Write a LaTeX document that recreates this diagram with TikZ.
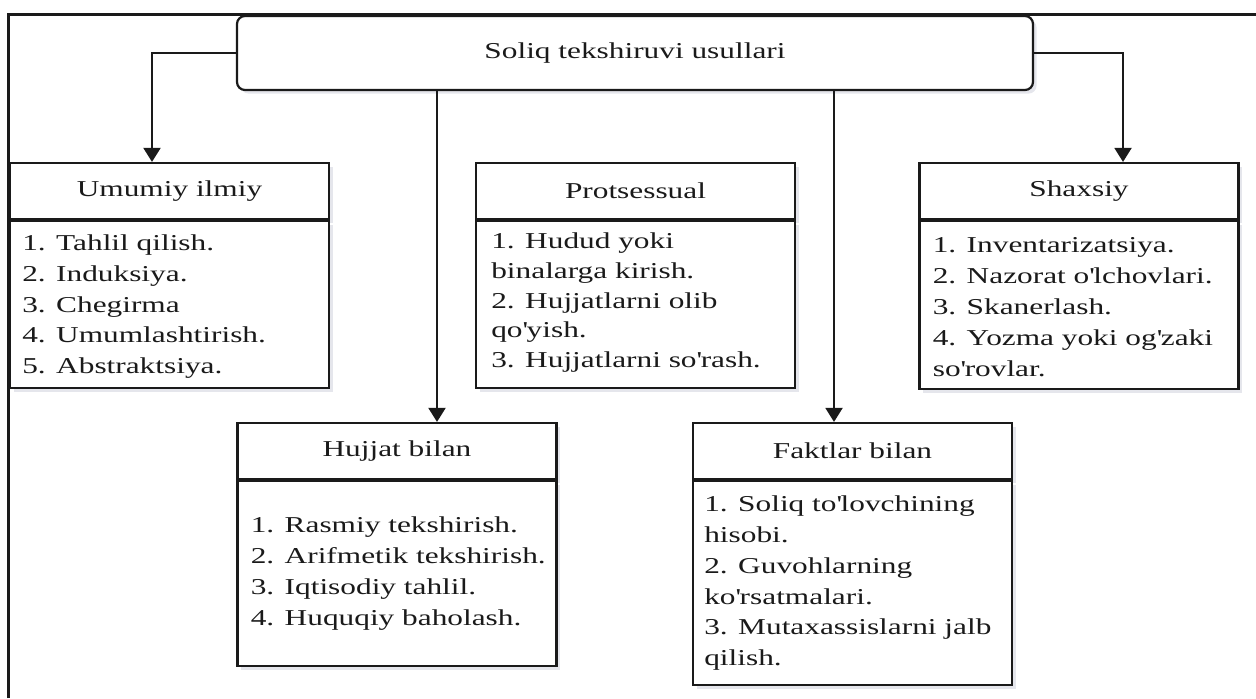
\documentclass[tikz,border=0pt]{standalone}
\usepackage{fontspec}
\setmainfont{Liberation Serif}[FakeStretch=1.38]
\usetikzlibrary{arrows.meta,shadows}
\definecolor{ink}{HTML}{1A1A1A}
\definecolor{shade}{HTML}{8A8FA8}
\newcommand{\ap}{\textquotesingle}
\tikzset{
  frameline/.style={draw=ink, line width=1.2pt},
  shadowed/.style={drop shadow={shadow xshift=1.8pt, shadow yshift=-1.8pt, opacity=0.22, fill=shade}},
  topbox/.style={draw=ink, line width=1.1pt, fill=white, rounded corners=4pt, minimum width=398pt, minimum height=37pt, inner sep=0pt, shadowed, font=\fontsize{11.35}{15.4}\selectfont, text=ink},
  hdrbox/.style={draw=ink, line width=1.1pt, fill=white, minimum width=159.5pt, minimum height=28pt, inner sep=0pt, shadowed, font=\fontsize{11.35}{15.4}\selectfont, text=ink},
  bodybox/.style={draw=ink, line width=1.1pt, fill=white, minimum width=159.5pt, inner sep=0pt, anchor=north, shadowed},
  itemtext/.style={anchor=west, align=left, inner sep=0pt, text=ink, font=\fontsize{11.35}{15.4}\selectfont},
  arr/.style={draw=ink, line width=1pt, -{Triangle[width=8.5pt,length=7pt]}}
}
\begin{document}
\begin{tikzpicture}[x=0.5pt,y=-0.5pt]
\useasboundingbox (0,0) rectangle (1256,698);
\draw[frameline] (8.5,698) -- (8.5,14.5) -- (1256,14.5);

\node[topbox] (top) at (635,53) {Soliq tekshiruvi usullari};

% Umumiy ilmiy
\node[hdrbox] (u1) at (169.5,191) {Umumiy ilmiy};
\node[bodybox, minimum height=83.5pt] (u2) at (u1.south) {};
\node[itemtext] (u3) at ([xshift=6.5pt,yshift=-1pt]u2.west) {1. Tahlil qilish.\\2. Induksiya.\\3. Chegirma\\4. Umumlashtirish.\\5. Abstraktsiya.};

% Protsessual
\node[hdrbox] (p1) at (635.5,191) {Protsessual};
\node[bodybox, minimum height=83.5pt] (p2) at (p1.south) {};
\node[itemtext, font=\fontsize{11.35}{14.8}\selectfont] (p3) at ([xshift=8pt,yshift=1pt]p2.west) {1. Hudud yoki\\binalarga kirish.\\2. Hujjatlarni olib\\qo\ap yish.\\3. Hujjatlarni so\ap rash.};

% Shaxsiy
\node[hdrbox] (s1) at (1079,191) {Shaxsiy};
\node[bodybox, minimum height=84pt] (s2) at (s1.south) {};
\node[itemtext] (s3) at ([xshift=7pt,yshift=-1pt]s2.west) {1. Inventarizatsiya.\\2. Nazorat o\ap lchovlari.\\3. Skanerlash.\\4. Yozma yoki og\ap zaki\\so\ap rovlar.};

% Hujjat bilan
\node[hdrbox] (h1) at (397,451) {Hujjat bilan};
\node[bodybox, minimum height=92.5pt] (h2) at (h1.south) {};
\node[itemtext] (h3) at ([xshift=7pt]h2.west) {1. Rasmiy tekshirish.\\2. Arifmetik tekshirish.\\3. Iqtisodiy tahlil.\\4. Huquqiy baholash.};

% Faktlar bilan
\node[hdrbox] (f1) at (852.5,451) {Faktlar bilan};
\node[bodybox, minimum height=102pt] (f2) at (f1.south) {};
\node[itemtext] (f3) at ([xshift=6pt]f2.west) {1. Soliq to\ap lovchining\\hisobi.\\2. Guvohlarning\\ko\ap rsatmalari.\\3. Mutaxassislarni jalb\\qilish.};

% connectors
\coordinate (a1) at ([xshift=-8.75pt]u1.north);
\coordinate (a2) at ([xshift=20pt]h1.north);
\coordinate (a3) at ([xshift=-9.25pt]f1.north);
\coordinate (a4) at ([xshift=22pt]s1.north);
\draw[arr] (top.west) -| (a1);
\draw[arr] (top.east) -| (a4);
\draw[arr] (top.south -| a2) -- (a2);
\draw[arr] (top.south -| a3) -- (a3);
\end{tikzpicture}
\end{document}
